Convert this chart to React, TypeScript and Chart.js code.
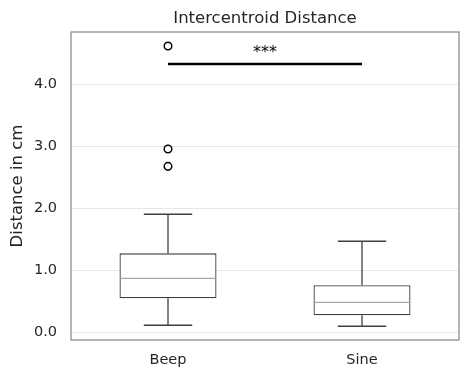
import React, { useEffect, useRef } from "react";
import { Chart, registerables } from "chart.js";

Chart.register(...registerables);

const categories = ["Beep", "Sine"];
const whiskerLow = [0.113, 0.097];
const q1 = [0.548, 0.274];
const median = [0.871, 0.484];
const q3 = [1.274, 0.758];
const whiskerHigh = [1.903, 1.468];
const outlierCategory = ["Beep", "Beep", "Beep"];
const outlierValues = [2.677, 2.956, 4.618];
const sigFrom = "Beep";
const sigTo = "Sine";
const sigY = 4.328;
const sigLabel = "***";
const sigLabelY = 4.5;
const yTicks = [0, 1, 2, 3, 4];
const yMin = -0.124;
const yMax = 4.844;
const chartTitle = "Intercentroid Distance";

const TEXT = "#262626";
const FONT = "'DejaVu Sans', sans-serif";

export default function App() {
  const ref = useRef<HTMLCanvasElement | null>(null);
  useEffect(() => {
    if (!ref.current) return;

    const whiskerData: any[] = [];
    categories.forEach((c, i) => {
      whiskerData.push({ x: c, y: whiskerLow[i] });
      whiskerData.push({ x: c, y: q1[i] });
      whiskerData.push({ x: c, y: null });
      whiskerData.push({ x: c, y: q3[i] });
      whiskerData.push({ x: c, y: whiskerHigh[i] });
      whiskerData.push({ x: c, y: null });
    });
    const capData: any[] = [];
    categories.forEach((c, i) => {
      capData.push({ x: c, y: whiskerLow[i] });
      capData.push({ x: c, y: whiskerHigh[i] });
    });

    const framePlugin = {
      id: "frame",
      afterDraw(chart: any) {
        const { ctx, chartArea: a } = chart;
        ctx.save();
        ctx.strokeStyle = "#8a8a8a";
        ctx.lineWidth = 1.25;
        ctx.strokeRect(a.left, a.top, a.right - a.left, a.bottom - a.top);
        ctx.fillStyle = TEXT;
        ctx.font = `16.5px ${FONT}`;
        ctx.textAlign = "center";
        ctx.textBaseline = "middle";
        ctx.fillText(chartTitle, (a.left + a.right) / 2, 11);
        ctx.restore();
      },
    };
    const sigPlugin = {
      id: "sigLabel",
      afterDatasetsDraw(chart: any) {
        const { ctx, scales } = chart;
        const x1 = scales.x.getPixelForValue(categories.indexOf(sigFrom));
        const x2 = scales.x.getPixelForValue(categories.indexOf(sigTo));
        const y = scales.y.getPixelForValue(sigLabelY);
        ctx.save();
        ctx.fillStyle = "#000";
        ctx.font = `16px ${FONT}`;
        ctx.textAlign = "center";
        ctx.textBaseline = "middle";
        ctx.fillText(sigLabel, (x1 + x2) / 2, y);
        ctx.restore();
      },
    };

    const chart = new Chart(ref.current, {
      type: "bar",
      data: {
        labels: categories,
        datasets: [
          {
            type: "bar",
            data: categories.map((_, i) => [q1[i], q3[i]]),
            backgroundColor: "#ffffff",
            borderColor: "#3f3f3f",
            borderWidth: 1.3,
            borderSkipped: false,
            barPercentage: 0.5,
            categoryPercentage: 1,
            grouped: false,
            order: 3,
          } as any,
          {
            type: "line",
            data: whiskerData,
            borderColor: "#3f3f3f",
            borderWidth: 1.3,
            pointRadius: 0,
            spanGaps: false,
            order: 4,
          } as any,
          {
            type: "line",
            data: capData,
            showLine: false,
            pointStyle: "line",
            pointRadius: 24.2,
            pointBorderColor: "#3f3f3f",
            pointBorderWidth: 1.5,
            order: 2,
          } as any,
          {
            type: "line",
            data: categories.map((c, i) => ({ x: c, y: median[i] })),
            showLine: false,
            pointStyle: "line",
            pointRadius: 47.5,
            pointBorderColor: "#a6a6a6",
            pointBorderWidth: 1.3,
            order: 1,
          } as any,
          {
            type: "line",
            data: outlierValues.map((v, i) => ({ x: outlierCategory[i], y: v })),
            showLine: false,
            pointStyle: "circle",
            pointRadius: 3.8,
            pointBackgroundColor: "#ffffff",
            pointBorderColor: "#000000",
            pointBorderWidth: 1.5,
            order: 0,
          } as any,
          {
            type: "line",
            data: [
              { x: sigFrom, y: sigY },
              { x: sigTo, y: sigY },
            ],
            borderColor: "#000000",
            borderWidth: 2.5,
            pointRadius: 0,
            order: 0,
          } as any,
        ],
      },
      options: {
        animation: false,
        responsive: true,
        maintainAspectRatio: false,
        layout: { autoPadding: false, padding: { top: 24, right: 1, bottom: 0, left: 0 } },
        plugins: {
          legend: { display: false },
          tooltip: { enabled: false },
          title: { display: false },
        },
        scales: {
          x: {
            type: "category",
            grid: { display: false, drawTicks: false },
            border: { display: false },
            afterFit: (axis: any) => {
              axis.height = 30;
            },
            ticks: {
              color: TEXT,
              font: { family: FONT, size: 14.5 },
              padding: 12,
            },
          },
          y: {
            type: "linear",
            min: yMin,
            max: yMax,
            afterBuildTicks: (axis: any) => {
              axis.ticks = yTicks.map((v) => ({ value: v }));
            },
            afterFit: (axis: any) => {
              axis.width = 63;
            },
            grid: { color: "#e6e6e6", lineWidth: 1, drawTicks: false },
            border: { display: false },
            ticks: {
              color: TEXT,
              font: { family: FONT, size: 14.5 },
              padding: 14,
              callback: (v: any) => Number(v).toFixed(1),
            },
            title: {
              display: true,
              text: "Distance in cm",
              color: TEXT,
              font: { family: FONT, size: 16.5 },
              padding: { top: 0, bottom: 0 },
            },
          },
        },
      },
      plugins: [framePlugin, sigPlugin],
    });
    return () => chart.destroy();
  }, []);

  return (
    <div style={{ width: 452, height: 362 }}>
      <canvas ref={ref} />
    </div>
  );
}
